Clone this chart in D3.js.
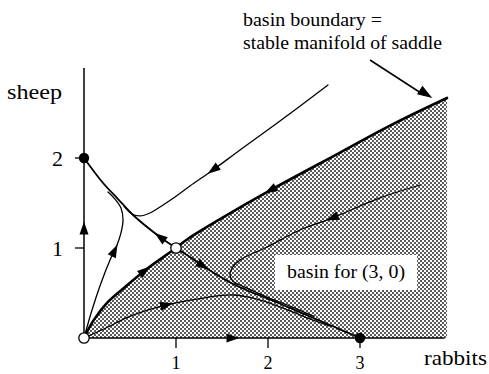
<!DOCTYPE html>
<html><head><meta charset="utf-8">
<script src="https://cdn.jsdelivr.net/npm/d3@7"></script>
<style>body{margin:0;background:#fff}svg{display:block}</style>
</head><body><svg id="c" width="489" height="374"></svg>
<script>
// ---- data (phase-plane coordinates: rabbits, sheep) ----
const xTicks = [1, 2, 3];
const yTicks = [1, 2];
const xTickLabels = ["1", "2", "3"];
const yTickLabels = ["1", "2"];
const stableFixed = [[0, 2], [3, 0]];
const unstableFixed = [[0, 0], [1, 1]];
// basin boundary = stable manifold of saddle (origin -> saddle -> far end)
const boundary = [[0,0],[0.1,0.19],[0.25,0.39],[0.45,0.57],[0.7,0.78],[1,1],[1.120,1.095],[1.478,1.32],[2.022,1.64],[2.783,2.06],[3.326,2.36],[3.946,2.667]];
// unstable manifold of saddle: (0,2) <- saddle -> (3,0)
const manifold = [[0,2],[0.207,1.722],[0.370,1.544],[0.533,1.367],[0.826,1.122],[1,1],[1.152,0.9],[1.293,0.8],[1.620,0.6],[2.163,0.367],[2.674,0.144],[3,0]];
const trajUpper = [[2.652,2.811],[2.130,2.411],[1.696,2.089],[1.402,1.867],[1.152,1.689],[0.989,1.567],[0.826,1.456],[0.717,1.389],[0.609,1.356],[0.522,1.378],[0.435,1.467]];
const trajLeft = [[0,0],[0.087,0.311],[0.185,0.611],[0.283,0.867],[0.359,1.033],[0.402,1.167],[0.424,1.311],[0.402,1.444],[0.337,1.544],[0.261,1.622]];
const trajLow = [[0,0],[0.261,0.122],[0.478,0.233],[0.804,0.344],[1.228,0.433],[1.620,0.478],[1.880,0.433],[2.163,0.333],[2.402,0.233],[2.674,0.133]];
const trajBasin = [[3.652,1.7],[3.217,1.556],[2.696,1.333],[2.348,1.2],[1.989,1.011],[1.696,0.867],[1.609,0.778],[1.587,0.7],[1.620,0.63],[1.772,0.555],[1.989,0.455],[2.239,0.355],[2.5,0.24]];
const yAxisFlow = [[0,0],[0,3]];
const xAxisFlow = [[0,0],[3.92,0]];
// arrows: [curve name, x, y, direction along point order]
const arrows = [["boundary",0.663,0.744,1],["boundary",2.022,1.64,-1],["manifold",0.826,1.122,-1],["manifold",1.293,0.8,1],["trajUpper",1.402,1.867,1],["trajLeft",0.359,0.96,1],["trajLow",0.9,0.362,1],["trajBasin",2.696,1.333,1],["yAxisFlow",0,1.22,1],["xAxisFlow",1.62,0,1]];

// pick an installed serif font
function pickFont(){
  const cands = ["Liberation Serif","Tinos","Times New Roman","DejaVu Serif","Noto Serif","Nimbus Roman","FreeSerif","Times"];
  const ctx = document.createElement("canvas").getContext("2d");
  const probe = "sheep rabbits basin 0123";
  ctx.font = "40px monospace"; const wm = ctx.measureText(probe).width;
  ctx.font = "40px sans-serif"; const ws = ctx.measureText(probe).width;
  for (const f of cands) {
    ctx.font = `40px "${f}", monospace`; const a = ctx.measureText(probe).width;
    ctx.font = `40px "${f}", sans-serif`; const b = ctx.measureText(probe).width;
    if (a !== wm && b !== ws) return `"${f}", serif`;
  }
  return "serif";
}
const FONT = pickFont();
const svg = d3.select("#c");
const x = d3.scaleLinear().domain([0, 1]).range([84, 176]);
const y = d3.scaleLinear().domain([0, 1]).range([338, 248]);

// pattern
const defs = svg.append("defs");
const pat = defs.append("pattern").attr("id","dots").attr("patternUnits","userSpaceOnUse").attr("width",4).attr("height",4);
pat.append("rect").attr("width",4).attr("height",4).attr("fill","#fff");
pat.append("rect").attr("x",0).attr("y",0).attr("width",2).attr("height",2).attr("fill","#5a5a5a");
pat.append("rect").attr("x",2).attr("y",2).attr("width",2).attr("height",2).attr("fill","#5a5a5a");

const line = d3.line().x(d=>x(d[0])).y(d=>y(d[1])).curve(d3.curveCatmullRom.alpha(0.5));
const lastB = boundary[boundary.length-1];
// shaded basin: boundary curve then down and back
svg.append("path").attr("d", line(boundary) + "L" + x(lastB[0]) + "," + y(0) + "L" + x(0) + "," + y(0) + "Z")
  .attr("fill","url(#dots)").attr("stroke","none");

function txt(sel, xx, yy, size, s, len, anchor){
  const t = sel.append("text").attr("x",xx).attr("y",yy).style("font-size",size+"px").style("font-family",FONT).attr("fill","#000").text(s);
  if (len) t.attr("textLength",len).attr("lengthAdjust","spacingAndGlyphs");
  if (anchor) t.attr("text-anchor",anchor);
  return t;
}

// basin label box
svg.append("rect").attr("x",275).attr("y",255).attr("width",142).attr("height",35).attr("fill","#fff");
txt(svg,287,278,19,"basin for (3, 0)",118);

// axes
svg.append("path").attr("d", line(yAxisFlow)).attr("stroke","#000").attr("stroke-width",1.5).attr("fill","none").attr("id","yAxisFlow");
svg.append("path").attr("d", line(xAxisFlow)).attr("stroke","#000").attr("stroke-width",1.5).attr("fill","none").attr("id","xAxisFlow");
svg.selectAll(".yt").data(yTicks).enter().append("line").attr("x1",x(0)-9).attr("x2",x(0)).attr("y1",d=>y(d)).attr("y2",d=>y(d)).attr("stroke","#000").attr("stroke-width",1.3);
svg.selectAll(".xt").data(xTicks).enter().append("line").attr("x1",d=>x(d)).attr("x2",d=>x(d)).attr("y1",y(0)).attr("y2",y(0)+10).attr("stroke","#000").attr("stroke-width",1.3);
yTicks.forEach((d,i)=>txt(svg,63,y(d)+8,22,yTickLabels[i],null,"end"));
xTicks.forEach((d,i)=>txt(svg,x(d),369,18,xTickLabels[i],null,"middle"));
txt(svg,7,99,22,"sheep",55);
txt(svg,424,365,22,"rabbits",63);

// curves
const curves = {boundary:[boundary,2.6], manifold:[manifold,1.8], trajUpper:[trajUpper,1.3], trajLeft:[trajLeft,1.3], trajLow:[trajLow,1.3], trajBasin:[trajBasin,1.3]};
for (const k in curves) {
  svg.append("path").attr("id",k).attr("d", line(curves[k][0])).attr("fill","none").attr("stroke","#000").attr("stroke-width",curves[k][1]).attr("stroke-linejoin","round").attr("stroke-linecap","round");
}

// arrowheads
function arrowHead(px,py,ang,len,hw){
  const c=Math.cos(ang), s=Math.sin(ang);
  const tip=[px+c*len/2, py+s*len/2];
  const bx=px-c*len/2, by=py-s*len/2;
  return `M${tip[0]},${tip[1]}L${bx - s*hw},${by + c*hw}L${bx + s*hw},${by - c*hw}Z`;
}
arrows.forEach(a=>{
  const node = document.getElementById(a[0]);
  const L = node.getTotalLength();
  const tx=x(a[1]), ty=y(a[2]);
  let best=0, bd=1e9;
  for(let l=0;l<=L;l+=0.5){const p=node.getPointAtLength(l);const d=(p.x-tx)**2+(p.y-ty)**2;if(d<bd){bd=d;best=l;}}
  const p0=node.getPointAtLength(Math.max(0,best-2)), p1=node.getPointAtLength(Math.min(L,best+2));
  let ang=Math.atan2(p1.y-p0.y,p1.x-p0.x); if(a[3]<0) ang+=Math.PI;
  const p=node.getPointAtLength(best);
  svg.append("path").attr("d",arrowHead(p.x,p.y,ang,13,4.5)).attr("fill","#000");
});

// fixed points
svg.selectAll(".sf").data(stableFixed).enter().append("circle").attr("cx",d=>x(d[0])).attr("cy",d=>y(d[1])).attr("r",5.2).attr("fill","#000");
svg.selectAll(".uf").data(unstableFixed).enter().append("circle").attr("cx",d=>x(d[0])).attr("cy",d=>y(d[1])).attr("r",5.2).attr("fill","#fff").attr("stroke","#000").attr("stroke-width",1.3);

// annotation
txt(svg,243,26,19,"basin boundary =",139);
txt(svg,243,49,19,"stable manifold of saddle",199);
svg.append("line").attr("x1",370).attr("y1",60).attr("x2",424).attr("y2",95).attr("stroke","#000").attr("stroke-width",1.5);
svg.append("path").attr("d",arrowHead(426,94,Math.atan2(40,62),15,5)).attr("fill","#000");
</script></body></html>
